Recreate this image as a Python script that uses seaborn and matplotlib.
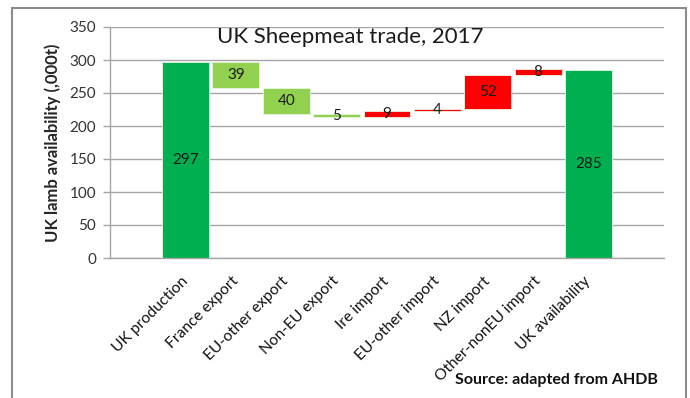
import matplotlib
matplotlib.use("Agg")
import matplotlib.pyplot as plt
import seaborn as sns
import pandas as pd
from matplotlib.patches import Rectangle

categories = ["UK production", "France export", "EU-other export", "Non-EU export",
              "Ire import", "EU-other import", "NZ import", "Other-nonEU import",
              "UK availability"]
values = [297, 39, 40, 5, 9, 4, 52, 8, 285]
bases = [0, 258, 218, 213, 213, 222, 226, 278, 0]
bar_colors = ["#00B050", "#92D050", "#92D050", "#92D050", "#FF0000", "#FF0000",
              "#FF0000", "#FF0000", "#00B050"]
yticks = [0, 50, 100, 150, 200, 250, 300, 350]

sns.set_theme(style="white")
plt.rcParams['font.family'] = ['Lato', 'DejaVu Sans']

df = pd.DataFrame({"category": categories, "value": values, "base": bases})

fig = plt.figure(figsize=(6.9, 3.98), dpi=100)
ax = fig.add_axes([110/690, 1-258/398, (664-110)/690, (258-27)/398])

sns.barplot(data=df, x="category", y="value", order=categories, bottom=df["base"].values,
            color="#00B050", errorbar=None, width=0.93, ax=ax, zorder=2)
for p, c in zip(ax.patches, bar_colors):
    p.set_facecolor(c)
    p.set_edgecolor("#E8F5E0")
    p.set_linewidth(0.6)

for i, (v, b) in enumerate(zip(values, bases)):
    ax.text(i, b + v/2, str(v), ha="center", va="center", fontsize=11,
            color="#1a1a1a", zorder=3)

ax.set_xlim(-1.5, 9.5)
ax.set_ylim(0, 350)
ax.set_yticks(yticks)
ax.set_yticklabels([str(t) for t in yticks], fontsize=11, color="#333333")
ax.yaxis.grid(True, color="#A6A6A6", linewidth=1.0, zorder=0)
ax.set_axisbelow(True)

ax.set_xticks(range(len(categories)))
ax.set_xticklabels(categories, rotation=45, ha="right", va="center",
                   rotation_mode="anchor", fontsize=11.2, color="#111111")
ax.set_xticks([x - 0.5 for x in range(-1, 11)], minor=True)
ax.tick_params(axis="x", which="major", length=0, pad=15)
ax.tick_params(axis="x", which="minor", length=5, color="#A6A6A6", width=1, direction="out")
ax.tick_params(axis="y", which="major", length=5, color="#A6A6A6", width=1, direction="out", pad=5, left=True)

for s in ["top", "right"]:
    ax.spines[s].set_visible(False)
for s in ["bottom", "left"]:
    ax.spines[s].set_color("#A6A6A6")
    ax.spines[s].set_linewidth(1)

ax.set_xlabel("")
ax.set_ylabel("UK lamb availability (,000t)", fontsize=12, fontweight="bold", labelpad=6)

fig.text(350/690, 1-37/398, "UK Sheepmeat trade, 2017", ha="center", va="center",
         fontsize=16, color="#1a1a1a")
fig.text(455/690, 1-380/398, "Source: adapted from AHDB", ha="left", va="center",
         fontsize=11.5, fontweight="bold", color="#111111")

fig.patches.append(Rectangle((12/690, -0.05), (686-12)/690, 1.05-8/398,
                             transform=fig.transFigure, fill=False,
                             edgecolor="#8C8C8C", linewidth=1.5))

fig.savefig("out.png", dpi=100)
